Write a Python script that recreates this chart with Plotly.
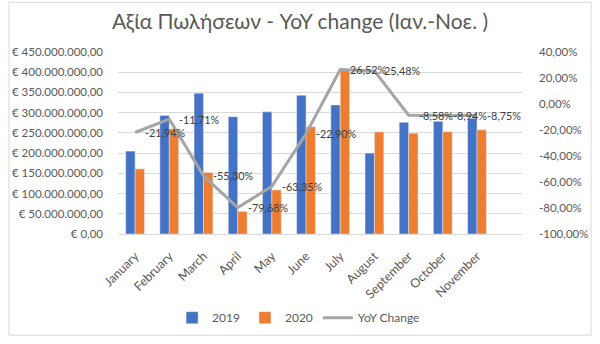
import plotly.graph_objects as go

months = ["January", "February", "March", "April", "May", "June", "July",
          "August", "September", "October", "November"]
sales_2019 = [205e6, 293e6, 348e6, 290e6, 302e6, 343e6, 319e6, 200e6, 276e6, 278.5e6, 286e6]
sales_2020 = [161e6, 260e6, 152e6, 56e6, 109e6, 265e6, 404e6, 252.5e6, 249e6, 253e6, 257.5e6]
yoy = [-0.2194, -0.1171, -0.5530, -0.7968, -0.6335, -0.2290, 0.2652, 0.2548, -0.0858, -0.0894, -0.0875]
yoy_labels = ["-21,94%", "-11,71%", "-55,30%", "-79,68%", "-63,35%", "-22,90%",
              "26,52%", "25,48%", "-8,58%", "-8,94%", "-8,75%"]

left_ticks = [i * 50e6 for i in range(10)]
left_text = ["€ 0,00", "€ 50.000.000,00", "€ 100.000.000,00", "€ 150.000.000,00",
             "€ 200.000.000,00", "€ 250.000.000,00", "€ 300.000.000,00",
             "€ 350.000.000,00", "€ 400.000.000,00", "€ 450.000.000,00"]
right_ticks = [-1.0, -0.8, -0.6, -0.4, -0.2, 0.0, 0.2, 0.4]
right_text = ["-100,00%", "-80,00%", "-60,00%", "-40,00%", "-20,00%", "0,00%", "20,00%", "40,00%"]

FONT = "Lato"
GREY = "#595959"

fig = go.Figure()
fig.add_trace(go.Bar(x=months, y=sales_2019, name="2019", marker_color="#4472C4"))
fig.add_trace(go.Bar(x=months, y=sales_2020, name="2020", marker_color="#ED7D31"))
fig.add_trace(go.Scatter(x=months, y=yoy, name="YoY Change", yaxis="y2", mode="lines",
                         line=dict(color="#A5A5A5", width=3)))

annotations = [dict(x=m, y=v, xref="x", yref="y2", text=t, showarrow=False,
                    xanchor="left", yanchor="middle", xshift=9,
                    borderpad=0, font=dict(family=FONT, size=10.8, color="#404040"))
               for m, v, t in zip(months, yoy, yoy_labels)]

fig.update_layout(
    width=600, height=344,
    margin=dict(l=113, r=72, t=52, b=105),
    paper_bgcolor="white", plot_bgcolor="white",
    font=dict(family=FONT, size=12, color=GREY),
    title=dict(text="Αξία Πωλήσεων - YoY change (Ιαν.-Νοε. )", x=0.5, xanchor="center",
               y=1 - 22 / 344, yanchor="middle", font=dict(family=FONT, size=21, color=GREY)),
    barmode="group", bargap=0.45, bargroupgap=0,
    xaxis=dict(tickangle=-45, showgrid=False, showline=True, linecolor="#D9D9D9",
               tickfont=dict(size=12.5, color=GREY), ticks="", ticklabelstandoff=9),
    yaxis=dict(range=[0, 450e6], tickvals=left_ticks, ticktext=left_text,
               showgrid=True, gridcolor="#D9D9D9", gridwidth=1, zeroline=False,
               tickfont=dict(size=11.5, color=GREY), ticklabelstandoff=14),
    yaxis2=dict(range=[-1.0, 0.4], tickvals=right_ticks, ticktext=right_text,
                overlaying="y", side="right", showgrid=False, zeroline=False,
                tickfont=dict(size=11.5, color=GREY), ticklabelstandoff=16),
    legend=dict(orientation="h", x=0.5 - 22 / 415, xanchor="center", y=-86 / 187,
                yanchor="middle", font=dict(size=12, color=GREY), traceorder="normal",
                itemwidth=30),
    annotations=annotations,
    shapes=[dict(type="rect", xref="paper", yref="paper",
                 x0=-112 / 415, x1=(600 - 113 - 1) / 415,
                 y0=-(105 - 1) / 187, y1=(52 - 1 + 187) / 187,
                 line=dict(color="#D9D9D9", width=1))],
)

fig.write_html("out.html")
